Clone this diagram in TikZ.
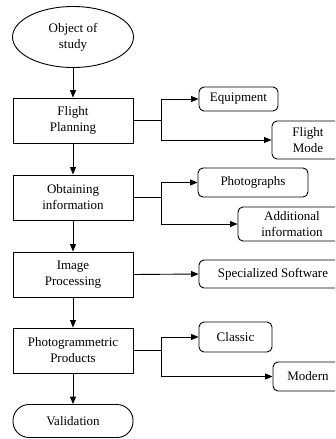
\documentclass[tikz,border=0pt]{standalone}
\usepackage{fontspec}
\setmainfont{Liberation Serif}
\usetikzlibrary{arrows.meta,shapes.geometric}

\tikzset{
	stagebox/.style={draw, line width=0.9pt, minimum width=120pt, minimum height=45pt, align=center},
	sidebox/.style={draw, line width=0.9pt, rounded corners=5pt, align=center, inner sep=2pt},
	flow/.style={line width=0.9pt, -{Triangle[length=7.5pt,width=6pt]}}
}

\begin{document}
\begin{tikzpicture}[x=1pt,y=-1pt,font=\fontsize{13}{16}\selectfont]
			\clip (0,0) rectangle (335,439);
			\node[draw, ellipse, line width=0.9pt, minimum width=121pt, minimum height=61pt, align=center] (object) at (73,37) {Object of\\study};
			\node[stagebox] (planning) at (73,120.5) {Flight\\Planning};
			\node[stagebox] (obtaining) at (73,197.5) {Obtaining\\information};
			\node[stagebox] (processing) at (73,274.5) {Image\\Processing};
			\node[stagebox] (products) at (73,350.5) {Photogrammetric\\Products};
			\node[draw, line width=0.9pt, rounded corners=16pt, minimum width=120pt, minimum height=33pt] (validation) at (73,421) {Validation};

			\node[sidebox, minimum width=79pt, minimum height=24pt] (equipment) at (238.5,99) {Equipment};
			\node[sidebox, minimum width=72pt, minimum height=38pt] (flightmode) at (308,140) {Flight\\Mode};
			\node[sidebox, minimum width=110pt, minimum height=29pt] (photographs) at (253,182.5) {Photographs};
			\node[sidebox, minimum width=108pt, minimum height=34pt] (additional) at (292,224) {Additional\\information};
			\node[sidebox, minimum width=148pt, minimum height=28pt] (software) at (273,274) {Specialized Software};
			\node[sidebox, minimum width=73pt, minimum height=30pt] (classic) at (235.5,337) {Classic};
			\node[sidebox, minimum width=70pt, minimum height=29pt] (modern) at (308,376.5) {Modern};

			\draw[flow] (object) -- (planning);
			\draw[flow] (planning) -- (obtaining);
			\draw[flow] (obtaining) -- (processing);
			\draw[flow] (processing) -- (products);
			\draw[flow] (products) -- (validation);

			\draw[line width=0.9pt] (planning.east) -- ++(28,0) coordinate (forkplan);
			\draw[flow] (forkplan) |- (equipment.west);
			\draw[flow] (forkplan) |- (flightmode.west);
			\draw[line width=0.9pt] (obtaining.east) -- ++(28,0) coordinate (forkobt);
			\draw[flow] (forkobt) |- (photographs.west);
			\draw[flow] (forkobt) |- (additional.west);
			\draw[flow] (processing.east) -- (software.west);
			\draw[line width=0.9pt] (products.east) -- ++(28,0) coordinate (forkprod);
			\draw[flow] (forkprod) |- (classic.west);
			\draw[flow] (forkprod) |- (modern.west);
		\end{tikzpicture}
\end{document}
